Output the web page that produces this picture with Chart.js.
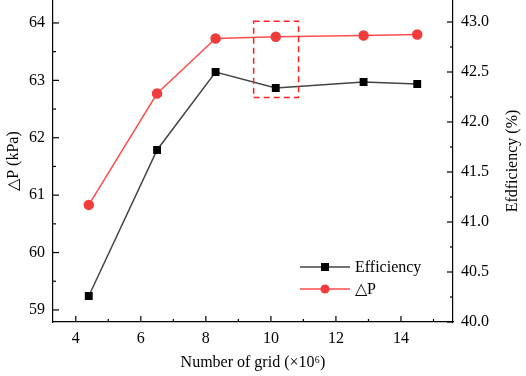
<!DOCTYPE html>
<html lang="en">
<head>
  <meta charset="UTF-8">
  <title>Grid independence</title>
  <script src="https://cdn.jsdelivr.net/npm/chart.js"></script>
  <style>
    body { margin: 0; background: #fff; }
  </style>
</head>
<body>
  <canvas id="gridChart" width="526" height="376" style="width: 526px; height: 376px;"></canvas>

  <script>
    // values
    const gridSize = [4.4, 6.5, 8.3, 10.15, 12.85, 14.5];
    const efficiency = [40.26, 41.72, 42.50, 42.34, 42.40, 42.38];
    const deltaP = [60.83, 62.77, 63.73, 63.76, 63.78, 63.80];

    const xTicks = [4, 6, 8, 10, 12, 14];
    const xMinor = [5, 7, 9, 11, 13, 15];
    const pTicks = [59, 60, 61, 62, 63, 64];
    const pMinor = [59.5, 60.5, 61.5, 62.5, 63.5];
    const effTicks = [40.0, 40.5, 41.0, 41.5, 42.0, 42.5, 43.0];
    const effMinor = [40.25, 40.75, 41.25, 41.75, 42.25, 42.75];

    // dashed box around the converged point (x range, ΔP range)
    const boxX = [9.47, 10.85];
    const boxP = [62.70, 64.03];

    const font = { family: "'Liberation Serif', 'Times New Roman', serif", size: 16 };
    const effColor = '#444444';
    const effPoint = '#000000';
    const pColor = '#ff4d4d';
    const pPoint = '#f23c3c';

    const toPoints = (ys) => gridSize.map((x, i) => ({ x: x, y: ys[i] }));
    const noPad = s => { s.paddingTop = 0; s.paddingBottom = 0; s.paddingLeft = 0; s.paddingRight = 0; };

    // inward tick marks, box and custom legend
    const extras = {
      id: 'extras',
      afterDraw(chart) {
        const ctx = chart.ctx;
        const { x, y, y1 } = chart.scales;
        const area = chart.chartArea;
        ctx.save();
        ctx.strokeStyle = '#000';
        ctx.lineWidth = 1.2;
        const tick = (x0, y0, x1, y1_) => {
          ctx.beginPath(); ctx.moveTo(x0, y0); ctx.lineTo(x1, y1_); ctx.stroke();
        };
        xTicks.forEach(v => { const px = x.getPixelForValue(v); tick(px, area.bottom, px, area.bottom - 6); });
        xMinor.forEach(v => { const px = x.getPixelForValue(v); tick(px, area.bottom, px, area.bottom - 3); });
        pTicks.forEach(v => { const py = y.getPixelForValue(v); tick(area.left, py, area.left + 6, py); });
        pMinor.forEach(v => { const py = y.getPixelForValue(v); tick(area.left, py, area.left + 3, py); });
        effTicks.forEach(v => { const py = y1.getPixelForValue(v); tick(area.right, py, area.right - 6, py); });
        effMinor.forEach(v => { const py = y1.getPixelForValue(v); tick(area.right, py, area.right - 3, py); });

        // dashed box
        const bx0 = x.getPixelForValue(boxX[0]);
        const bx1 = x.getPixelForValue(boxX[1]);
        const by0 = y.getPixelForValue(boxP[1]);
        const by1 = y.getPixelForValue(boxP[0]);
        ctx.strokeStyle = '#ff2020';
        ctx.lineWidth = 1.5;
        ctx.setLineDash([6, 4]);
        ctx.strokeRect(bx0, by0, bx1 - bx0, by1 - by0);
        ctx.setLineDash([]);

        // right axis title, reading bottom to top
        ctx.fillStyle = '#000';
        ctx.font = font.size + 'px ' + font.family;
        ctx.textAlign = 'center';
        ctx.textBaseline = 'middle';
        ctx.save();
        ctx.translate(513, (area.top + area.bottom) / 2);
        ctx.rotate(-Math.PI / 2);
        ctx.fillText('Efdficiency (%)', 0, 0);
        ctx.restore();

        // legend
        const lx0 = 300, lx1 = 350, lmid = 325;
        const rows = [
          { text: 'Efficiency', y: 267, line: effColor, fill: effPoint, square: true },
          { text: '\u25B3P', y: 289, line: pColor, fill: pPoint, square: false }
        ];
        ctx.textAlign = 'left';
        rows.forEach(r => {
          ctx.strokeStyle = r.line;
          ctx.lineWidth = 1.5;
          tick(lx0, r.y, lx1, r.y);
          ctx.fillStyle = r.fill;
          if (r.square) {
            ctx.fillRect(lmid - 4, r.y - 4, 8, 8);
          } else {
            ctx.beginPath(); ctx.arc(lmid, r.y, 4.5, 0, Math.PI * 2); ctx.fill();
          }
          ctx.fillStyle = '#000';
          ctx.fillText(r.text, 355, r.y + 1);
        });
        ctx.restore();
      }
    };

    const data = {
      datasets: [
        {
          label: 'Efficiency',
          data: toPoints(efficiency),
          yAxisID: 'y1',
          borderColor: effColor,
          backgroundColor: effPoint,
          pointBackgroundColor: effPoint,
          pointBorderColor: effPoint,
          pointStyle: 'rect',
          pointRadius: 4.5,
          borderWidth: 1.5
        },
        {
          label: '\u25B3P',
          data: toPoints(deltaP),
          yAxisID: 'y',
          borderColor: pColor,
          backgroundColor: pPoint,
          pointBackgroundColor: pPoint,
          pointBorderColor: pPoint,
          pointStyle: 'circle',
          pointRadius: 4.5,
          borderWidth: 1.5
        }
      ]
    };

    const config = {
      type: 'line',
      data: data,
      options: {
        responsive: false,
        devicePixelRatio: 1,
        animation: false,
        layout: { autoPadding: false, padding: 0 },
        plugins: {
          legend: { display: false },
          tooltip: { enabled: false }
        },
        scales: {
          x: {
            type: 'linear',
            position: 'bottom',
            min: 3.3,
            max: 15.6,
            afterBuildTicks: s => { s.ticks = xTicks.map(v => ({ value: v })); },
            afterFit: s => { s.height = 54; noPad(s); },
            grid: { display: false, drawTicks: false },
            border: { display: true, color: '#000', width: 1.2 },
            ticks: { color: '#000', font: font, padding: 7, maxRotation: 0 },
            title: { display: true, text: 'Number of grid (\u00D710\u2076)', color: '#000', font: font, padding: 4 }
          },
          y: {
            type: 'linear',
            position: 'left',
            min: 58.79,
            max: 64.4,
            afterBuildTicks: s => { s.ticks = pTicks.map(v => ({ value: v })); },
            afterFit: s => { s.width = 53; noPad(s); },
            grid: { display: false, drawTicks: false },
            border: { display: true, color: '#000', width: 1.2 },
            ticks: { color: '#000', font: font, padding: 8 },
            title: { display: true, text: '\u25B3P (kPa)', color: '#000', font: font, padding: 4 }
          },
          y1: {
            type: 'linear',
            position: 'right',
            min: 40.0,
            max: 43.22,
            afterBuildTicks: s => { s.ticks = effTicks.map(v => ({ value: v })); },
            afterFit: s => { s.width = 73; noPad(s); },
            grid: { display: false, drawTicks: false },
            border: { display: true, color: '#000', width: 1.2 },
            ticks: { color: '#000', font: font, padding: 8, callback: v => Number(v).toFixed(1) }
          }
        }
      },
      plugins: [extras]
    };

    new Chart(document.getElementById('gridChart'), config);
  </script>
</body>
</html>
